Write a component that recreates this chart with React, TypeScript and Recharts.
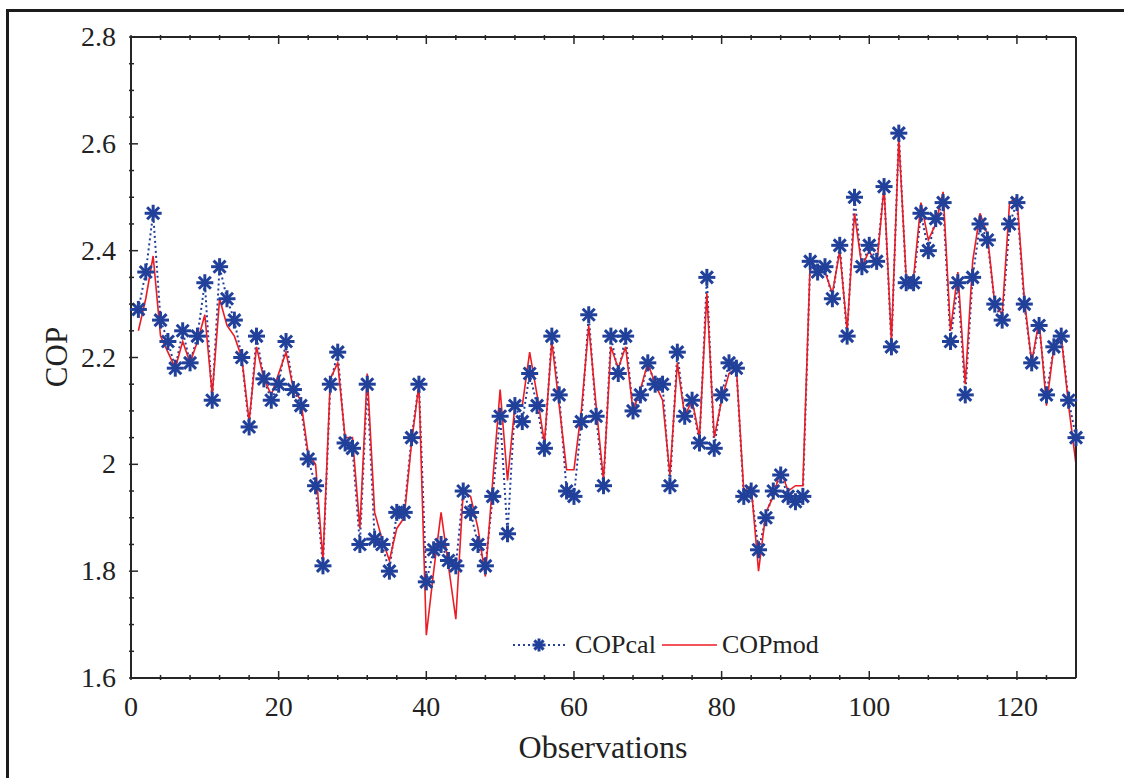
import React from 'react';
import { LineChart, Line, XAxis, YAxis } from 'recharts';

const observations = Array.from({ length: 128 }, (_, i) => i + 1);

const copCal = [
  2.29, 2.36, 2.47, 2.27, 2.23, 2.18, 2.25, 2.19, 2.24, 2.34,
  2.12, 2.37, 2.31, 2.27, 2.20, 2.07, 2.24, 2.16, 2.12, 2.15,
  2.23, 2.14, 2.11, 2.01, 1.96, 1.81, 2.15, 2.21, 2.04, 2.03,
  1.85, 2.15, 1.86, 1.85, 1.80, 1.91, 1.91, 2.05, 2.15, 1.78,
  1.84, 1.85, 1.82, 1.81, 1.95, 1.91, 1.85, 1.81, 1.94, 2.09,
  1.87, 2.11, 2.08, 2.17, 2.11, 2.03, 2.24, 2.13, 1.95, 1.94,
  2.08, 2.28, 2.09, 1.96, 2.24, 2.17, 2.24, 2.10, 2.13, 2.19,
  2.15, 2.15, 1.96, 2.21, 2.09, 2.12, 2.04, 2.35, 2.03, 2.13,
  2.19, 2.18, 1.94, 1.95, 1.84, 1.90, 1.95, 1.98, 1.94, 1.93,
  1.94, 2.38, 2.36, 2.37, 2.31, 2.41, 2.24, 2.50, 2.37, 2.41,
  2.38, 2.52, 2.22, 2.62, 2.34, 2.34, 2.47, 2.40, 2.46, 2.49,
  2.23, 2.34, 2.13, 2.35, 2.45, 2.42, 2.30, 2.27, 2.45, 2.49,
  2.30, 2.19, 2.26, 2.13, 2.22, 2.24, 2.12, 2.05,
];

const copMod = [
  2.25, 2.31, 2.39, 2.24, 2.21, 2.18, 2.23, 2.19, 2.23, 2.28,
  2.13, 2.31, 2.26, 2.24, 2.20, 2.08, 2.22, 2.16, 2.13, 2.17,
  2.21, 2.14, 2.12, 2.02, 2.00, 1.82, 2.16, 2.19, 2.05, 2.05,
  1.88, 2.17, 1.91, 1.86, 1.82, 1.88, 1.90, 2.04, 2.15, 1.68,
  1.80, 1.91, 1.81, 1.71, 1.95, 1.94, 1.88, 1.79, 1.97, 2.14,
  1.97, 2.11, 2.11, 2.21, 2.13, 2.04, 2.23, 2.11, 1.99, 1.99,
  2.10, 2.26, 2.11, 1.97, 2.22, 2.18, 2.22, 2.10, 2.14, 2.19,
  2.15, 2.12, 1.98, 2.19, 2.09, 2.12, 2.05, 2.32, 2.05, 2.12,
  2.17, 2.18, 1.95, 1.96, 1.80, 1.91, 1.94, 1.99, 1.95, 1.96,
  1.96, 2.38, 2.36, 2.36, 2.32, 2.40, 2.25, 2.47, 2.37, 2.40,
  2.37, 2.52, 2.23, 2.61, 2.35, 2.35, 2.49, 2.42, 2.45, 2.51,
  2.25, 2.36, 2.15, 2.38, 2.47, 2.43, 2.30, 2.28, 2.49, 2.50,
  2.31, 2.19, 2.27, 2.11, 2.22, 2.24, 2.11, 2.00,
];

const xMajor = [0, 20, 40, 60, 80, 100, 120];
const xMinor = [4, 8, 12, 16, 24, 28, 32, 36, 44, 48, 52, 56, 64, 68, 72, 76, 84, 88, 92, 96, 104, 108, 112, 116, 124];
const yMajor = [1.6, 1.8, 2, 2.2, 2.4, 2.6, 2.8];
const yMinor = [1.65, 1.7, 1.75, 1.85, 1.9, 1.95, 2.05, 2.1, 2.15, 2.25, 2.3, 2.35, 2.45, 2.5, 2.55, 2.65, 2.7, 2.75];

const data = observations.map((obs, i) => ({ obs, cal: copCal[i], mod: copMod[i] }));

const BLUE = '#21409a';
const RED = '#ec1c24';
const AXIS = '#262626';
const FONT = '"Liberation Serif", "Times New Roman", serif';
const MAJOR = 9;
const MINOR = 5;

const StarDot = (props: any) => {
  const { cx, cy, index } = props;
  if (cx == null || cy == null) return null;
  const r = 8.5;
  const d = r * 0.7071;
  return (
    <g key={`star-${index}`} stroke={BLUE} strokeWidth={3}>
      <line x1={cx - r} y1={cy} x2={cx + r} y2={cy} />
      <line x1={cx} y1={cy - r} x2={cx} y2={cy + r} />
      <line x1={cx - d} y1={cy - d} x2={cx + d} y2={cy + d} />
      <line x1={cx - d} y1={cy + d} x2={cx + d} y2={cy - d} />
    </g>
  );
};

const BottomTick = ({ x, y, payload }: any) => {
  const major = xMajor.includes(payload.value);
  return (
    <g>
      <line x1={x} y1={y} x2={x} y2={y - (major ? MAJOR : MINOR)} stroke={AXIS} strokeWidth={1.5} />
      {major && (
        <text x={x} y={y + 36} textAnchor="middle" fontSize={28} fontFamily={FONT} fill="#222">
          {payload.value}
        </text>
      )}
    </g>
  );
};

const TopTick = ({ x, y, payload }: any) => {
  const major = xMajor.includes(payload.value);
  return <line x1={x} y1={y} x2={x} y2={y + (major ? MAJOR : MINOR)} stroke={AXIS} strokeWidth={1.5} />;
};

const LeftTick = ({ x, y, payload }: any) => {
  const major = yMajor.includes(payload.value);
  return (
    <g>
      <line x1={x} y1={y} x2={x + (major ? MAJOR : MINOR)} y2={y} stroke={AXIS} strokeWidth={1.5} />
      {major && (
        <text x={x - 13} y={y + 9} textAnchor="end" fontSize={28} fontFamily={FONT} fill="#222">
          {payload.value}
        </text>
      )}
    </g>
  );
};

const RightTick = ({ x, y, payload }: any) => {
  const major = yMajor.includes(payload.value);
  return <line x1={x} y1={y} x2={x - (major ? MAJOR : MINOR)} y2={y} stroke={AXIS} strokeWidth={1.5} />;
};

const legendText: React.CSSProperties = {
  position: 'absolute',
  top: 0,
  lineHeight: '30px',
  fontFamily: FONT,
  fontSize: 26,
  color: '#222',
  whiteSpace: 'nowrap',
};

export default function App() {
  return (
    <div style={{ position: 'absolute', left: 0, top: 0, width: 1124, height: 778, overflow: 'hidden', background: '#fff' }}>
      <div style={{ position: 'absolute', left: 6, top: 9, width: 1300, height: 900, border: '3px solid #1c1c1c' }} />
      <div style={{ position: 'absolute', left: 0, top: 0 }}>
        <LineChart width={1124} height={778} data={data} margin={{ top: 36, right: 47, bottom: 99, left: 130 }}>
          <XAxis
            xAxisId="b"
            dataKey="obs"
            type="number"
            domain={[0, 128]}
            ticks={[...xMajor, ...xMinor]}
            interval={0}
            height={1}
            tickSize={0}
            tickLine={false}
            tick={<BottomTick />}
            axisLine={{ stroke: AXIS, strokeWidth: 2 }}
          />
          <XAxis
            xAxisId="t"
            orientation="top"
            dataKey="obs"
            type="number"
            domain={[0, 128]}
            ticks={[...xMajor, ...xMinor]}
            interval={0}
            height={1}
            tickSize={0}
            tickLine={false}
            tick={<TopTick />}
            axisLine={{ stroke: AXIS, strokeWidth: 2 }}
          />
          <YAxis
            yAxisId="l"
            type="number"
            domain={[1.6, 2.8]}
            ticks={[...yMajor, ...yMinor]}
            interval={0}
            width={1}
            tickSize={0}
            tickLine={false}
            tick={<LeftTick />}
            axisLine={{ stroke: AXIS, strokeWidth: 2 }}
          />
          <YAxis
            yAxisId="r"
            orientation="right"
            type="number"
            domain={[1.6, 2.8]}
            ticks={[...yMajor, ...yMinor]}
            interval={0}
            width={1}
            tickSize={0}
            tickLine={false}
            tick={<RightTick />}
            axisLine={{ stroke: AXIS, strokeWidth: 2 }}
          />
          <Line
            xAxisId="b"
            yAxisId="l"
            dataKey="cal"
            name="COPcal"
            stroke={BLUE}
            strokeWidth={2}
            strokeDasharray="2 3"
            dot={<StarDot />}
            activeDot={false}
            isAnimationActive={false}
          />
          <Line
            xAxisId="b"
            yAxisId="l"
            dataKey="mod"
            name="COPmod"
            stroke={RED}
            strokeWidth={1.6}
            dot={false}
            activeDot={false}
            isAnimationActive={false}
          />
        </LineChart>
      </div>

      <div style={{ position: 'absolute', left: 510, top: 630, width: 330, height: 30 }}>
        <svg width={330} height={30} style={{ position: 'absolute', left: 0, top: 0 }}>
          <line x1={3} y1={15} x2={58} y2={15} stroke={BLUE} strokeWidth={2} strokeDasharray="2 3" />
          <g stroke={BLUE} strokeWidth={3}>
            <line x1={22.5} y1={15} x2={35.5} y2={15} />
            <line x1={29} y1={8.5} x2={29} y2={21.5} />
            <line x1={24.4} y1={10.4} x2={33.6} y2={19.6} />
            <line x1={24.4} y1={19.6} x2={33.6} y2={10.4} />
          </g>
          <line x1={152} y1={15} x2={207} y2={15} stroke={RED} strokeWidth={1.6} />
        </svg>
        <span style={{ ...legendText, left: 65 }}>COPcal</span>
        <span style={{ ...legendText, left: 212 }}>COPmod</span>
      </div>

      <div
        style={{
          position: 'absolute',
          left: 57,
          top: 357,
          transform: 'translate(-50%, -50%) rotate(-90deg)',
          fontFamily: FONT,
          fontSize: 31,
          color: '#222',
          whiteSpace: 'nowrap',
        }}
      >
        COP
      </div>
      <div
        style={{
          position: 'absolute',
          left: 603,
          top: 747,
          transform: 'translate(-50%, -50%)',
          fontFamily: FONT,
          fontSize: 32,
          color: '#222',
          whiteSpace: 'nowrap',
        }}
      >
        Observations
      </div>
    </div>
  );
}
